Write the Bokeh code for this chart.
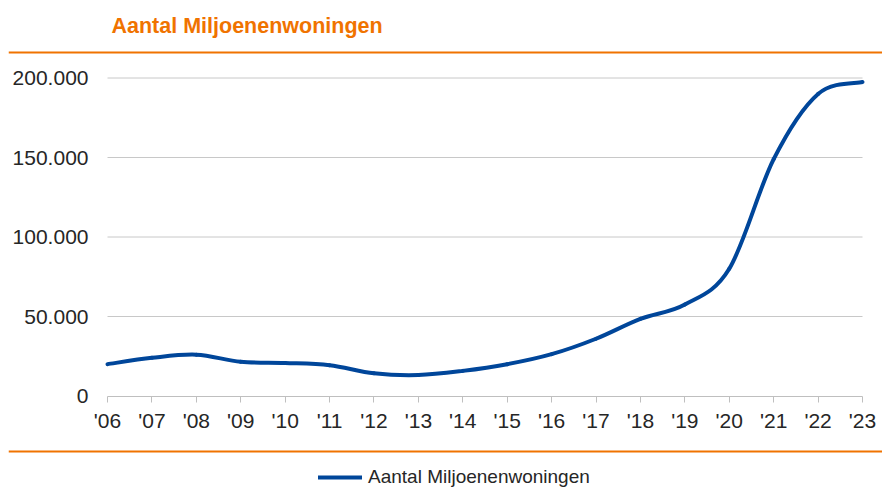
import numpy as np
from bokeh.plotting import figure
from bokeh.models import (Range1d, FixedTicker, Legend, LegendItem, ColumnDataSource,
                          Span)
from bokeh.embed import file_html
from bokeh.resources import INLINE

# ---- data ----
years = [2006, 2007, 2008, 2009, 2010, 2011, 2012, 2013, 2014,
         2015, 2016, 2017, 2018, 2019, 2020, 2021, 2022, 2023]
values = [20000, 24000, 26000, 21500, 20800, 19400, 14300, 13200, 15800,
          20000, 26300, 36000, 48500, 57500, 80000, 149000, 190000, 197500]
x_tick_labels = ["'06", "'07", "'08", "'09", "'10", "'11", "'12", "'13", "'14",
                 "'15", "'16", "'17", "'18", "'19", "'20", "'21", "'22", "'23"]
y_ticks = [0, 50000, 100000, 150000, 200000]
y_tick_labels = ["0", "50.000", "100.000", "150.000", "200.000"]
series_name = "Aantal Miljoenenwoningen"
title_text = "Aantal Miljoenenwoningen"

# ---- style / layout constants (pixels) ----
ORANGE = "#F07300"
BLUE = "#00469A"
TEXT = "#262626"
GRID = "#c8c8c8"
AXIS = "#bfbfbf"
FONT = "Liberation Sans"
W, H = 882, 501
FRAME_L, FRAME_R = 8, 882          # frame spans the full rule width
FRAME_T, FRAME_B = 44, 501
PLOT_L_PX, PLOT_R_PX = 107, 862    # where first / last year sit
PLOT_T_PX, PLOT_B_PX = 77.5, 395.5 # where top tick / zero sit
RULE_TOP_PX, RULE_BOT_PX = 52, 451

xk = (years[-1] - years[0]) / (PLOT_R_PX - PLOT_L_PX)
yk = (y_ticks[-1] - y_ticks[0]) / (PLOT_B_PX - PLOT_T_PX)
def px_x(px):
    return float(years[0] + (px - PLOT_L_PX) * xk)
def px_y(py):
    return float(y_ticks[0] + (PLOT_B_PX - py) * yk)

# smoothed curve: bezier segments through the data points (Excel-style smoothing)
xs = np.array(years, dtype=float)
ys = np.array(values, dtype=float)
n = len(xs)
xp = np.concatenate([[xs[0]], xs, [xs[-1]]])
yp = np.concatenate([[ys[0]], ys, [ys[-1]]])
seg = dict(x0=[], y0=[], x1=[], y1=[], cx0=[], cy0=[], cx1=[], cy1=[])
for i in range(n - 1):
    j = i + 1
    seg["x0"].append(xp[j]); seg["y0"].append(yp[j])
    seg["x1"].append(xp[j + 1]); seg["y1"].append(yp[j + 1])
    seg["cx0"].append(xp[j] + (xp[j + 1] - xp[j - 1]) / 6)
    seg["cy0"].append(yp[j] + (yp[j + 1] - yp[j - 1]) / 6)
    seg["cx1"].append(xp[j + 1] - (xp[j + 2] - xp[j]) / 6)
    seg["cy1"].append(yp[j + 1] - (yp[j + 2] - yp[j]) / 6)
src = ColumnDataSource(seg)

grid_src = ColumnDataSource(dict(x0=[years[0]] * (len(y_ticks) - 1),
                                 x1=[years[-1]] * (len(y_ticks) - 1),
                                 y=y_ticks[1:]))

p = figure(width=W, height=H, output_backend="svg", toolbar_location=None,
           x_range=Range1d(px_x(FRAME_L), px_x(FRAME_R)),
           y_range=Range1d(px_y(FRAME_B), px_y(FRAME_T)),
           min_border_left=FRAME_L, min_border_right=W - FRAME_R,
           min_border_top=FRAME_T, min_border_bottom=H - FRAME_B)
p.outline_line_color = None
p.background_fill_color = "white"
p.border_fill_color = "white"

# title
p.title.text = title_text
p.title.align = "left"
p.title.offset = PLOT_L_PX + 4 - FRAME_L
p.title.standoff = 13
p.title.text_font = FONT
p.title.text_font_style = "bold"
p.title.text_font_size = "21.5px"
p.title.text_color = ORANGE

# grid lines between first and last year
p.xgrid.visible = False
p.ygrid.visible = False
p.segment(x0="x0", x1="x1", y0="y", y1="y", source=grid_src,
          line_color=GRID, line_width=1)

# x axis at zero
xa = p.xaxis[0]
xa.fixed_location = y_ticks[0]
xa.bounds = (years[0], years[-1])
xa.ticker = FixedTicker(ticks=years)
xa.major_label_overrides = {y: l for y, l in zip(years, x_tick_labels)}
xa.axis_line_color = AXIS
xa.axis_line_width = 1
xa.major_tick_line_color = AXIS
xa.major_tick_in = 0
xa.major_tick_out = 6
xa.minor_tick_line_color = None
xa.major_label_standoff = 7
xa.major_label_text_font = FONT
xa.major_label_text_font_size = "21px"
xa.major_label_text_color = TEXT

# y axis at first year
ya = p.yaxis[0]
ya.fixed_location = years[0]
ya.bounds = (y_ticks[0], y_ticks[-1])
ya.ticker = FixedTicker(ticks=y_ticks)
ya.major_label_overrides = {t: l for t, l in zip(y_ticks, y_tick_labels)}
ya.axis_line_color = None
ya.major_tick_line_color = None
ya.minor_tick_line_color = None
ya.major_tick_in = 0
ya.major_tick_out = 0
ya.major_label_standoff = 19
ya.major_label_text_font = FONT
ya.major_label_text_font_size = "21px"
ya.major_label_text_color = TEXT

# curve
r = p.bezier(x0="x0", y0="y0", x1="x1", y1="y1", cx0="cx0", cy0="cy0",
             cx1="cx1", cy1="cy1", source=src, line_color=BLUE, line_width=4,
             line_cap="round")

# orange rules across the full width
for ry in (RULE_TOP_PX, RULE_BOT_PX):
    p.add_layout(Span(location=px_y(ry), dimension="width",
                      line_color=ORANGE, line_width=2))

# legend inside the (extended) frame, under the bottom rule
legend = Legend(items=[LegendItem(label=series_name, renderers=[r])],
                location=(310, 13), orientation="horizontal",
                padding=0, margin=0, spacing=0, border_line_color=None,
                background_fill_alpha=0, glyph_width=44, glyph_height=20,
                label_standoff=6, label_text_font=FONT,
                label_text_font_size="19px", label_text_color=TEXT,
                label_height=20)
p.add_layout(legend, "center")

open("out.html", "w").write(file_html(p, INLINE))
